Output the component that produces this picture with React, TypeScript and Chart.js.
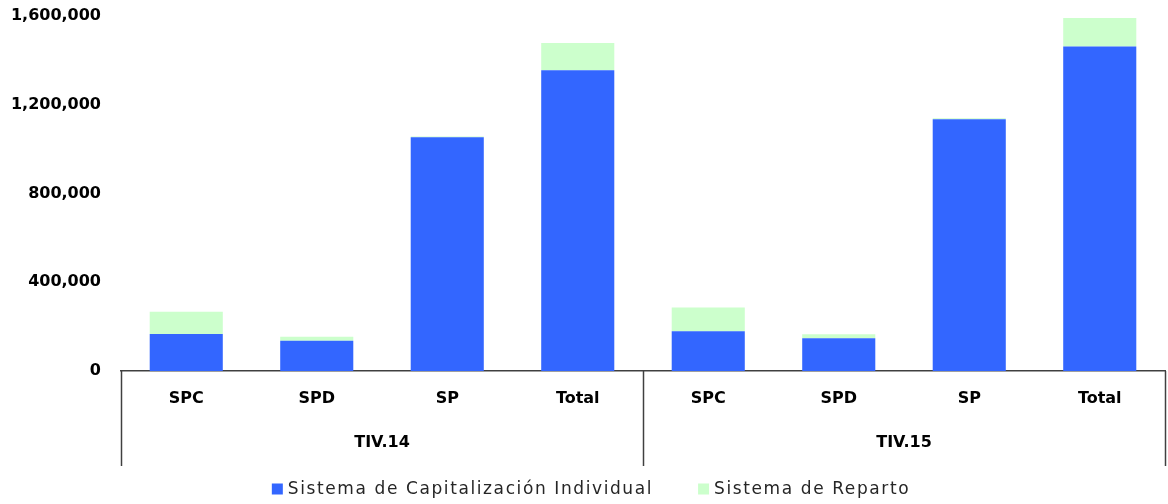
import React, { useEffect, useRef } from "react";
import { Chart, registerables } from "chart.js";

Chart.register(...registerables);

const categories = ["SPC", "SPD", "SP", "Total", "SPC", "SPD", "SP", "Total"];
const groups = ["TIV.14", "TIV.15"];
const capitalizacion = [167000, 136000, 1053000, 1356000, 179000, 148000, 1135000, 1462000];
const reparto = [100000, 18000, 4000, 122000, 107000, 18000, 4000, 129000];
const seriesNames = ["Sistema de Capitalización Individual", "Sistema de Reparto"];
const seriesColors = ["#3366FF", "#CCFFCC"];

const separatorPlugin = {
  id: "groupSeparators",
  afterDraw(chart: any) {
    const { ctx, chartArea, scales } = chart;
    const x = scales.x;
    const mid = (x.getPixelForValue(3) + x.getPixelForValue(4)) / 2;
    const xs = [chartArea.left, mid, chartArea.right];
    ctx.save();
    ctx.strokeStyle = "#404040";
    ctx.lineWidth = 1.5;
    xs.forEach((px) => {
      ctx.beginPath();
      ctx.moveTo(Math.round(px) + 0.5, chartArea.bottom);
      ctx.lineTo(Math.round(px) + 0.5, chartArea.bottom + 95);
      ctx.stroke();
    });
    ctx.restore();
  },
};

const legendPlugin = {
  id: "bottomLegend",
  afterDraw(chart: any) {
    const { ctx, width, height } = chart;
    const datasets = chart.data.datasets;
    ctx.save();
    ctx.font = "17px 'DejaVu Sans', sans-serif";
    (ctx as any).letterSpacing = "1.6px";
    ctx.textBaseline = "middle";
    ctx.textAlign = "left";
    const box = 11;
    const gapBoxText = 5;
    const gapItems = 45;
    const widths = datasets.map((d: any) => ctx.measureText(d.label).width);
    const total = widths.reduce((a: number, w: number) => a + box + gapBoxText + w, 0) + gapItems * (datasets.length - 1);
    let x = width / 2 + 7 - total / 2;
    const cy = height - 15;
    datasets.forEach((d: any, i: number) => {
      ctx.fillStyle = d.backgroundColor;
      ctx.fillRect(x, cy - box / 2, box, box);
      x += box + gapBoxText;
      ctx.fillStyle = "#262626";
      ctx.fillText(d.label, x, cy + 1);
      x += widths[i] + gapItems;
    });
    ctx.restore();
  },
};

export default function App() {
  const ref = useRef<HTMLCanvasElement>(null);
  useEffect(() => {
    if (!ref.current) return;
    const chart = new Chart(ref.current, {
      type: "bar",
      data: {
        labels: categories,
        datasets: [
          {
            label: seriesNames[0],
            data: capitalizacion,
            backgroundColor: seriesColors[0],
            borderWidth: 0,
          },
          {
            label: seriesNames[1],
            data: reparto,
            backgroundColor: seriesColors[1],
            borderWidth: 0,
          },
        ],
      },
      options: {
        animation: false,
        responsive: true,
        maintainAspectRatio: false,
        layout: { padding: { top: 16, right: 3, left: 0, bottom: 38 } },
        datasets: { bar: { barPercentage: 0.56, categoryPercentage: 1 } },
        plugins: {
          legend: { display: false },
          tooltip: { enabled: false },
        },
        scales: {
          x: {
            stacked: true,
            weight: 0,
            grid: { display: false, drawTicks: false },
            border: { display: true, color: "#404040", width: 1.5 },
            ticks: {
              color: "#000000",
              padding: 18,
              maxRotation: 0,
              autoSkip: false,
              font: { family: "'DejaVu Sans', sans-serif", size: 16, weight: "bold" },
            },
            afterFit(scale: any) {
              scale.height = 45;
            },
          },
          x2: {
            type: "category",
            labels: groups,
            position: "bottom",
            offset: true,
            weight: 1,
            grid: { display: false, drawTicks: false },
            border: { display: false },
            ticks: {
              color: "#000000",
              padding: 17,
              maxRotation: 0,
              autoSkip: false,
              font: { family: "'DejaVu Sans', sans-serif", size: 16, weight: "bold" },
            },
            afterFit(scale: any) {
              scale.height = 50;
            },
          },
          y: {
            stacked: true,
            min: 0,
            max: 1600000,
            grid: { display: false, drawTicks: false },
            border: { display: false },
            ticks: {
              stepSize: 400000,
              padding: 20,
              color: "#000000",
              font: { family: "'DejaVu Sans', sans-serif", size: 16, weight: "bold" },
              callback: (v: any) => Number(v).toLocaleString("en-US"),
            },
            afterFit(scale: any) {
              scale.width = 121;
              scale.paddingTop = 0;
              scale.paddingBottom = 0;
            },
          },
        },
      },
      plugins: [separatorPlugin, legendPlugin],
    });
    return () => chart.destroy();
  }, []);
  return (
    <div style={{ position: "fixed", left: 0, top: 0, width: 1168, height: 504, background: "#fff" }}>
      <canvas ref={ref} />
    </div>
  );
}
